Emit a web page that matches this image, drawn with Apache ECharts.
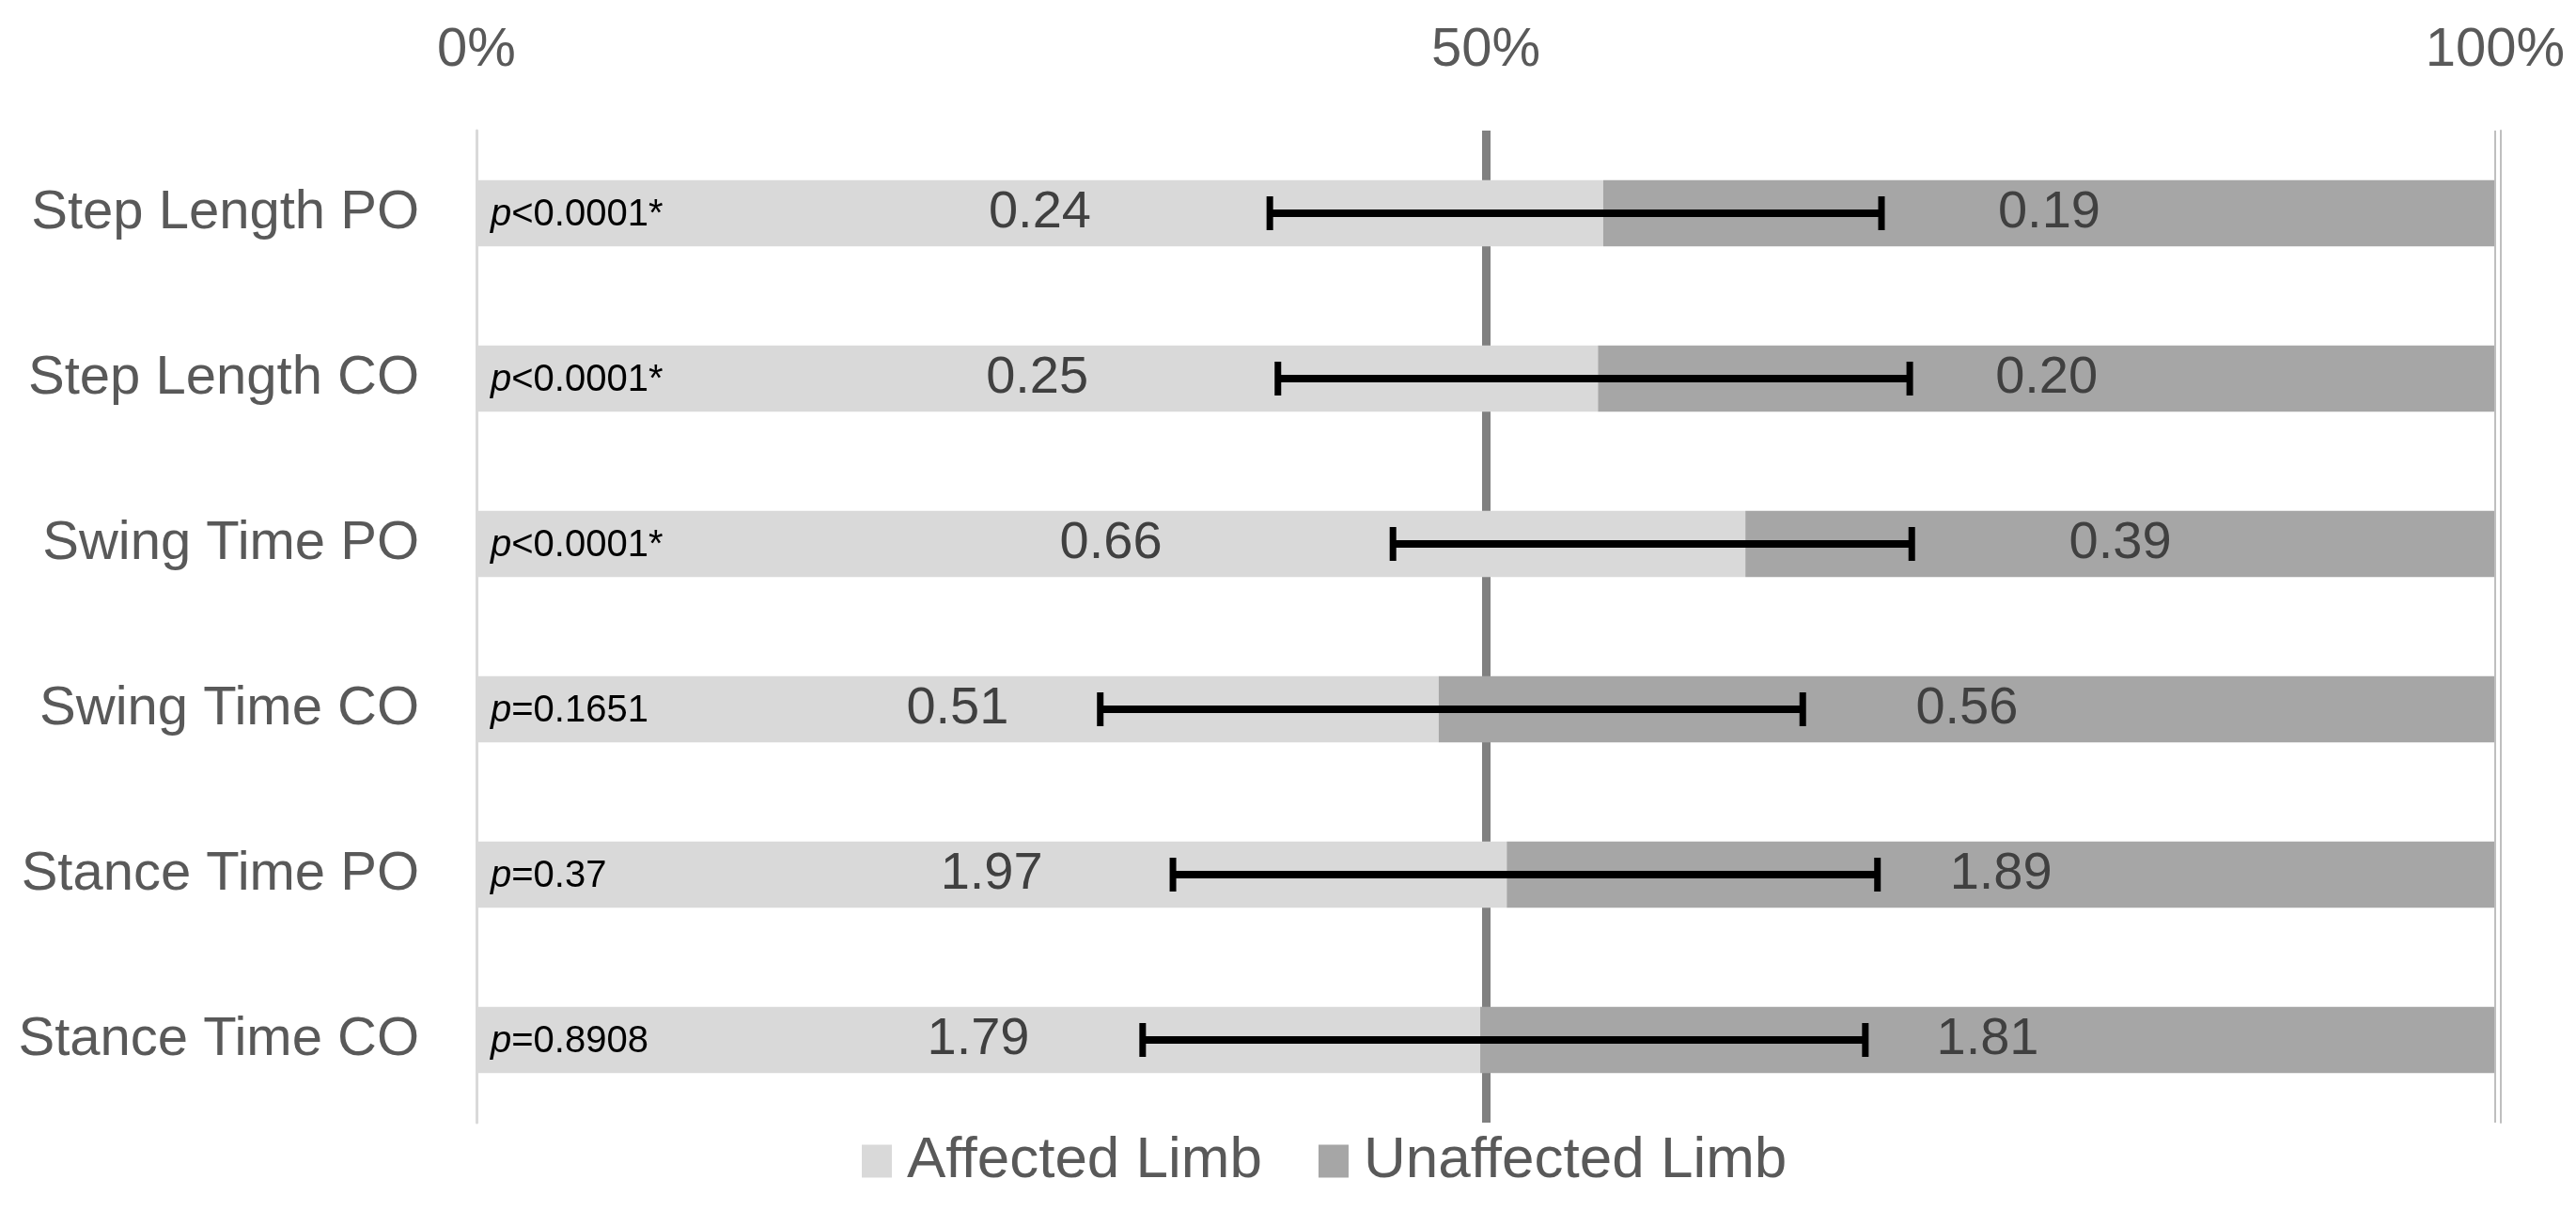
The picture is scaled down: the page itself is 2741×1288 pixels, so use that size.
<!DOCTYPE html>
<html>
<head>
<meta charset="utf-8">
<script src="https://cdn.jsdelivr.net/npm/echarts@6/dist/echarts.min.js"></script>
<style>
html,body{margin:0;padding:0;background:#fff;}
#chart{width:2741px;height:1288px;}
</style>
</head>
<body>
<div id="chart"></div>
<script>
const categories = ['Step Length PO', 'Step Length CO', 'Swing Time PO', 'Swing Time CO', 'Stance Time PO', 'Stance Time CO'];
const affected = [0.24, 0.25, 0.66, 0.51, 1.97, 1.79];
const unaffected = [0.19, 0.20, 0.39, 0.56, 1.89, 1.81];
// error bar ends, in percent of the axis
const errLow = [39.3, 39.7, 45.4, 30.9, 34.5, 33.0];
const errHigh = [69.6, 71.0, 71.1, 65.7, 69.4, 68.8];
const pLabels = ['<0.0001*', '<0.0001*', '<0.0001*', '=0.1651', '=0.37', '=0.8908'];
const seriesNames = ['Affected Limb', 'Unaffected Limb'];
const xTicks = [0, 50, 100];

const FONT = 'Liberation Sans, Arial, sans-serif';
const affPct = affected.map((v, i) => v / (v + unaffected[i]) * 100);
const unaffPct = unaffected.map((v, i) => v / (affected[i] + v) * 100);

const chart = echarts.init(document.getElementById('chart'));
chart.setOption({
  backgroundColor: '#fff',
  animation: false,
  textStyle: { fontFamily: FONT },
  grid: { left: 507, right: 86, top: 139, bottom: 93, containLabel: false },
  legend: {
    data: seriesNames,
    left: 912, top: 1200,
    icon: 'rect', itemWidth: 32, itemHeight: 35, itemGap: 60,
    textStyle: { fontSize: 62, color: '#595959', fontFamily: FONT, padding: [0, 0, 0, 11] }
  },
  xAxis: {
    type: 'value', position: 'top',
    min: xTicks[0], max: xTicks[xTicks.length - 1], interval: xTicks[1] - xTicks[0],
    axisLine: { show: false }, axisTick: { show: false },
    axisLabel: { formatter: '{value}%', fontSize: 58, color: '#595959', margin: 56, fontFamily: FONT },
    splitLine: { show: true, lineStyle: { color: ['transparent', '#808080', 'transparent'], width: 9 } }
  },
  yAxis: [{
    type: 'category', data: categories, inverse: true,
    axisLine: { show: true, lineStyle: { color: '#d9d9d9', width: 3 } },
    axisTick: { show: false },
    axisLabel: { fontSize: 58, color: '#595959', margin: 61, fontFamily: FONT }
  }, {
    type: 'category', data: categories, inverse: true, position: 'right', offset: 6,
    axisLine: { show: true, lineStyle: { color: '#bfbfbf', width: 2 } },
    axisTick: { show: false }, axisLabel: { show: false }
  }],
  series: [{
    name: seriesNames[0], type: 'bar', stack: 'total', barWidth: '40%',
    data: affPct,
    itemStyle: { color: '#d9d9d9' },
    label: {
      show: true, position: 'inside', fontSize: 56, color: '#404040', fontFamily: FONT,
      formatter: p => affected[p.dataIndex].toFixed(2)
    }
  }, {
    name: seriesNames[1], type: 'bar', stack: 'total', barWidth: '40%',
    data: unaffPct,
    itemStyle: { color: '#a6a6a6' },
    label: {
      show: true, position: 'inside', fontSize: 56, color: '#404040', fontFamily: FONT,
      formatter: p => unaffected[p.dataIndex].toFixed(2)
    },
    markLine: {
      silent: true, symbol: 'none', label: { show: false },
      lineStyle: { color: '#bfbfbf', width: 2, type: 'solid' },
      data: [{ xAxis: 100 }]
    }
  }, {
    name: 'err', type: 'custom', z: 5,
    data: categories.map((c, i) => [errLow[i], i, errHigh[i]]),
    encode: { x: [0, 2], y: 1 },
    renderItem: function (params, api) {
      const lo = api.coord([api.value(0), api.value(1)]);
      const hi = api.coord([api.value(2), api.value(1)]);
      const h = 18;
      const st = { stroke: '#000', lineWidth: 8 };
      const cs = { stroke: '#000', lineWidth: 7 };
      return {
        type: 'group', children: [
          { type: 'line', shape: { x1: lo[0], y1: lo[1], x2: hi[0], y2: hi[1] }, style: st },
          { type: 'line', shape: { x1: lo[0], y1: lo[1] - h, x2: lo[0], y2: lo[1] + h }, style: cs },
          { type: 'line', shape: { x1: hi[0], y1: hi[1] - h, x2: hi[0], y2: hi[1] + h }, style: cs }
        ]
      };
    }
  }, {
    name: 'pval', type: 'custom', z: 5,
    data: categories.map((c, i) => [0, i]),
    encode: { x: 0, y: 1 },
    renderItem: function (params, api) {
      const pos = api.coord([api.value(0), api.value(1)]);
      return {
        type: 'text',
        x: pos[0] + 15, y: pos[1] + 2,
        style: {
          text: '{i|p}{n|' + pLabels[params.dataIndex] + '}',
          verticalAlign: 'middle', align: 'left',
          rich: {
            i: { fontStyle: 'italic', fontSize: 40, fill: '#000', fontFamily: FONT },
            n: { fontSize: 40, fill: '#000', fontFamily: FONT }
          }
        }
      };
    }
  }]
});
</script>
</body>
</html>
